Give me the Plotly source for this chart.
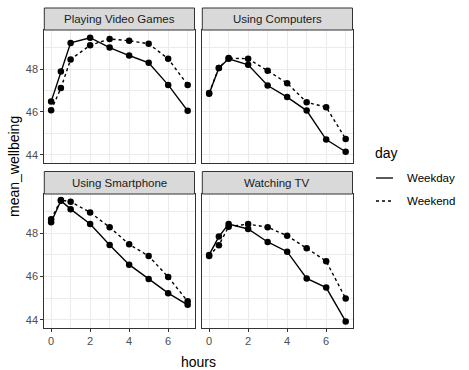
import plotly.graph_objects as go

hours = [0, 0.5, 1, 2, 3, 4, 5, 6, 7]
activities = ["Playing Video Games", "Using Computers", "Using Smartphone", "Watching TV"]

games_weekday = [46.48, 47.89, 49.22, 49.46, 49.00, 48.63, 48.29, 47.26, 46.05]
games_weekend = [46.08, 47.11, 48.45, 49.11, 49.40, 49.32, 49.18, 48.48, 47.26]
computers_weekday = [46.85, 48.05, 48.48, 48.20, 47.23, 46.69, 46.06, 44.71, 44.14]
computers_weekend = [46.88, 48.05, 48.51, 48.48, 47.92, 47.34, 46.45, 46.22, 44.74]
smartphone_weekday = [48.51, 49.51, 49.12, 48.43, 47.46, 46.55, 45.89, 45.23, 44.69]
smartphone_weekend = [48.65, 49.54, 49.46, 48.97, 48.28, 47.49, 46.95, 45.98, 44.85]
tv_weekday = [47.00, 47.85, 48.43, 48.20, 47.60, 47.15, 45.91, 45.49, 43.92]
tv_weekend = [46.95, 47.45, 48.31, 48.43, 48.28, 47.89, 47.31, 46.71, 44.98]

weekday = [games_weekday, computers_weekday, smartphone_weekday, tv_weekday]
weekend = [games_weekend, computers_weekend, smartphone_weekend, tv_weekend]
days = ["Weekday", "Weekend"]

W, H = 469, 370
def px(x): return x / W
def py(y): return 1 - y / H

xdom = [[px(44.3), px(194.5)], [px(202.3), px(352.5)]]
ydom = [[py(162.5), py(30)], [py(327.5), py(194)]]
strip = [[py(30), py(8)], [py(194), py(171.5)]]

font = "Liberation Sans, Arial, sans-serif"
fig = go.Figure()
shapes = []
annotations = []

ymin = min(min(s) for s in weekday + weekend)
ymax = max(max(s) for s in weekday + weekend)
pad = (ymax - ymin) * 0.05
yr = [ymin - pad, ymax + pad]
xr = [-0.35, 7.35]

for i, act in enumerate(activities):
    r, c = divmod(i, 2)
    n = i + 1
    xa = "x" if n == 1 else f"x{n}"
    ya = "y" if n == 1 else f"y{n}"
    for d, vals, dash in [(days[0], weekday[i], "solid"), (days[1], weekend[i], "3px,3px")]:
        fig.add_trace(go.Scatter(
            x=hours, y=vals, mode="lines+markers", xaxis=xa, yaxis=ya,
            line=dict(color="black", width=1.4, dash=dash),
            marker=dict(color="black", size=6.5),
            showlegend=False, name=d))
    common_x = dict(domain=xdom[c], range=xr, tick0=0, dtick=2,
                    showgrid=True, gridcolor="#EBEBEB", gridwidth=1.1,
                    minor=dict(showgrid=True, gridcolor="#EBEBEB", gridwidth=0.5, dtick=1, tick0=0),
                    zeroline=False, showline=True, mirror=True, linecolor="#333333", linewidth=1,
                    anchor=ya,
                    tickfont=dict(family=font, size=11, color="#4D4D4D"))
    if r == 1:
        common_x.update(ticks="outside", ticklen=3, tickcolor="#333333", tickwidth=1, showticklabels=True)
    else:
        common_x.update(ticks="", showticklabels=False)
    common_y = dict(domain=ydom[r], range=yr, tick0=44, dtick=2,
                    showgrid=True, gridcolor="#EBEBEB", gridwidth=1.1,
                    minor=dict(showgrid=True, gridcolor="#EBEBEB", gridwidth=0.5, dtick=1, tick0=44),
                    zeroline=False, showline=True, mirror=True, linecolor="#333333", linewidth=1,
                    anchor=xa,
                    tickfont=dict(family=font, size=11, color="#4D4D4D"))
    if c == 0:
        common_y.update(ticks="outside", ticklen=3, tickcolor="#333333", tickwidth=1, showticklabels=True)
    else:
        common_y.update(ticks="", showticklabels=False)
    fig.update_layout({("xaxis" if n == 1 else f"xaxis{n}"): common_x,
                       ("yaxis" if n == 1 else f"yaxis{n}"): common_y})
    shapes.append(dict(type="rect", xref="paper", yref="paper",
                       x0=xdom[c][0], x1=xdom[c][1], y0=strip[r][0], y1=strip[r][1],
                       fillcolor="#D9D9D9", line=dict(color="#333333", width=1), layer="above"))
    annotations.append(dict(text=act, xref="paper", yref="paper",
                            x=(xdom[c][0] + xdom[c][1]) / 2, y=(strip[r][0] + strip[r][1]) / 2,
                            showarrow=False, xanchor="center", yanchor="middle",
                            font=dict(family=font, size=11.5, color="#1A1A1A")))

# axis titles
annotations.append(dict(text="hours", xref="paper", yref="paper", x=px(198.4), y=py(362),
                        showarrow=False, xanchor="center", yanchor="middle",
                        font=dict(family=font, size=14, color="black")))
annotations.append(dict(text="mean_wellbeing", xref="paper", yref="paper", x=px(14), y=py(167),
                        showarrow=False, xanchor="center", yanchor="middle", textangle=-90,
                        font=dict(family=font, size=14, color="black")))

# legend
annotations.append(dict(text="day", xref="paper", yref="paper", x=px(373), y=py(153),
                        showarrow=False, xanchor="left", yanchor="middle",
                        font=dict(family=font, size=14, color="black")))
for k, (lab, dash) in enumerate([(days[0], "solid"), (days[1], "dot")]):
    yy = 178 + k * 23
    shapes.append(dict(type="line", xref="paper", yref="paper",
                       x0=px(376), x1=px(393), y0=py(yy), y1=py(yy),
                       line=dict(color="black", width=1.3, dash=dash)))
    annotations.append(dict(text=lab, xref="paper", yref="paper", x=px(405), y=py(yy),
                            showarrow=False, xanchor="left", yanchor="middle",
                            font=dict(family=font, size=11.5, color="black")))

fig.update_layout(width=W, height=H, margin=dict(l=0, r=0, t=0, b=0),
                  plot_bgcolor="white", paper_bgcolor="white",
                  shapes=shapes, annotations=annotations, showlegend=False)
fig.write_html("out.html", config={"displayModeBar": False},
               post_script="document.body.style.margin='0';document.body.style.overflow='hidden';")
